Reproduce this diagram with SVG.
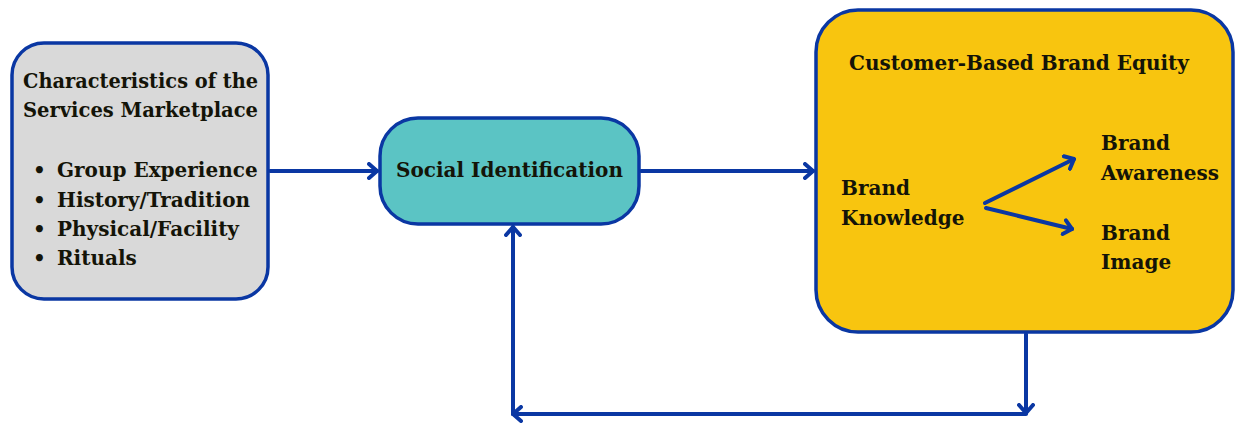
<svg xmlns="http://www.w3.org/2000/svg" width="1235" height="423" viewBox="0 0 1235 423">
<style>
.box{stroke:#0A37A3;stroke-width:3.5}
.t{font-family:"DejaVu Serif","Liberation Serif",serif;font-weight:bold;font-size:20px;fill:#141408}
.c{fill:none;stroke:#0A37A3;stroke-width:4;stroke-linecap:round;stroke-linejoin:round}
</style>
<defs>
<marker id="ah" viewBox="0 0 12 18" refX="10" refY="9" markerWidth="12" markerHeight="18" markerUnits="userSpaceOnUse" orient="auto">
<path d="M2,2 L10,9 L2,16" fill="none" stroke="#0A37A3" stroke-width="4" stroke-linecap="round" stroke-linejoin="round"/>
</marker>
</defs>
<rect width="1235" height="423" fill="#fff"/>
<g id="characteristics">
<rect class="box" x="12" y="43" width="256" height="256" rx="32" fill="#D9D9D9"/>
<text class="t" x="23" y="88" textLength="235" lengthAdjust="spacingAndGlyphs">Characteristics of the</text>
<text class="t" x="23" y="117" textLength="235" lengthAdjust="spacingAndGlyphs">Services Marketplace</text>
<text class="t" x="33" y="177">•</text>
<text class="t" x="57" y="177">Group Experience</text>
<text class="t" x="33" y="207">•</text>
<text class="t" x="57" y="207">History/Tradition</text>
<text class="t" x="33" y="236">•</text>
<text class="t" x="57" y="236">Physical/Facility</text>
<text class="t" x="33" y="265">•</text>
<text class="t" x="57" y="265">Rituals</text>
</g>
<g id="social">
<rect class="box" x="380" y="118" width="259" height="106" rx="38" fill="#5BC4C4"/>
<text class="t" x="509.5" y="177" text-anchor="middle">Social Identification</text>
</g>
<g id="cbbe">
<rect class="box" x="816" y="10" width="417" height="322" rx="42" fill="#F8C50F"/>
<text class="t" x="849" y="70">Customer-Based Brand Equity</text>
<text class="t" x="841" y="195">Brand</text>
<text class="t" x="841" y="225">Knowledge</text>
<text class="t" x="1101" y="150">Brand</text>
<text class="t" x="1101" y="180">Awareness</text>
<text class="t" x="1101" y="240">Brand</text>
<text class="t" x="1101" y="269">Image</text>
</g>
<g id="connectors">
<line class="c" x1="270" y1="171" x2="377" y2="171" marker-end="url(#ah)"/>
<line class="c" x1="641" y1="171" x2="813" y2="171" marker-end="url(#ah)"/>
<line class="c" x1="985" y1="203" x2="1074" y2="159" marker-end="url(#ah)"/>
<line class="c" x1="986" y1="208" x2="1072" y2="229" marker-end="url(#ah)"/>
<line class="c" x1="1026" y1="334" x2="1026" y2="413" marker-end="url(#ah)"/>
<line class="c" x1="1026" y1="414" x2="513" y2="414" marker-end="url(#ah)"/>
<line class="c" x1="513" y1="414" x2="513" y2="227" marker-end="url(#ah)"/>
</g>
</svg>
